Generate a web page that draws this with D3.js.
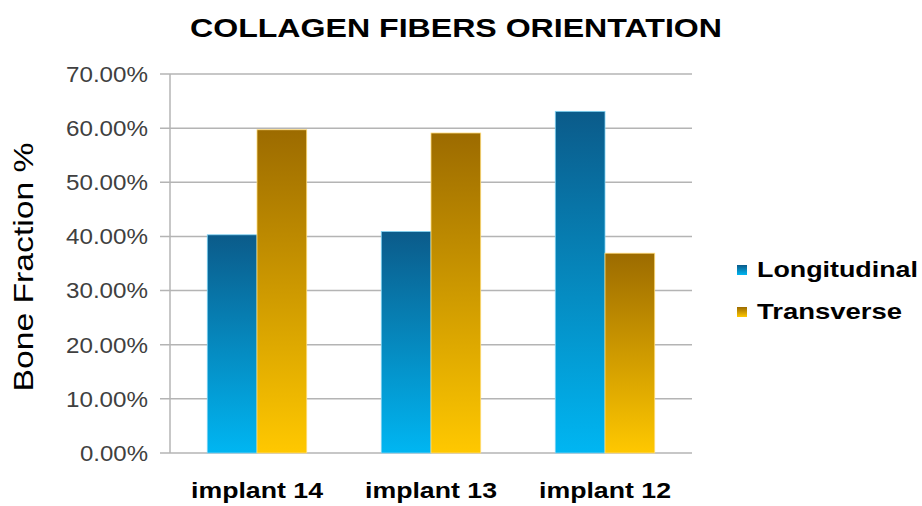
<!DOCTYPE html>
<html>
<head>
<meta charset="utf-8">
<script src="https://cdn.jsdelivr.net/npm/d3@7"></script>
<style>
  body { margin: 0; background: #fff; }
  text { font-family: "Liberation Sans", Arial, sans-serif; }
</style>
</head>
<body>
<script>
const width = 922,
      height = 506;

// data
const implants = ["implant 14", "implant 13", "implant 12"];
const seriesNames = ["Longitudinal", "Transverse"];
const longitudinal = [0.403, 0.409, 0.631];
const transverse = [0.597, 0.591, 0.369];
const yTicks = [0, 0.1, 0.2, 0.3, 0.4, 0.5, 0.6, 0.7];

const margin = {top: 74, right: 230, bottom: 53, left: 170};

const svg = d3.select("body")
              .append("svg")
              .attr("width", width)
              .attr("height", height);

const defs = svg.append("defs");
function gradient(id, top, bottom) {
    const g = defs.append("linearGradient")
                  .attr("id", id)
                  .attr("x1", 0).attr("y1", 0)
                  .attr("x2", 0).attr("y2", 1);
    g.append("stop").attr("offset", "0%").attr("stop-color", top);
    g.append("stop").attr("offset", "100%").attr("stop-color", bottom);
}
gradient("gBlue", "#0b5b8a", "#00b6f2");
gradient("gGold", "#9c6b00", "#ffc800");
const fills = ["url(#gBlue)", "url(#gGold)"];
const edges = ["#7fd3f3", "#ffdc7a"];

const x = d3.scaleBand()
            .domain(implants)
            .range([margin.left, width - margin.right]);

const xs = d3.scaleBand()
             .domain(seriesNames)
             .range([0, x.bandwidth()])
             .paddingOuter(0.75)
             .paddingInner(0);

const y = d3.scaleLinear()
            .domain([0, 0.7])
            .range([height - margin.bottom, margin.top]);

// gridlines
svg.append("g")
   .selectAll("line")
   .data(yTicks)
   .join("line")
   .attr("x1", margin.left - 10)
   .attr("x2", width - margin.right)
   .attr("y1", d => y(d))
   .attr("y2", d => y(d))
   .attr("stroke", "#b4b4b4")
   .attr("stroke-width", 1.5);

// y axis line
svg.append("line")
   .attr("x1", margin.left).attr("x2", margin.left)
   .attr("y1", y(0.7)).attr("y2", y(0))
   .attr("stroke", "#b4b4b4")
   .attr("stroke-width", 1.5);

// tick labels (the source image is stretched sideways, hence textLength)
svg.append("g")
   .selectAll("text")
   .data(yTicks)
   .join("text")
   .attr("x", margin.left - 22)
   .attr("y", d => y(d))
   .attr("dy", "0.36em")
   .attr("text-anchor", "end")
   .attr("fill", "#404040")
   .attr("textLength", d => d < 0.1 ? 68 : 82)
   .attr("lengthAdjust", "spacingAndGlyphs")
   .style("font-size", "22px")
   .text(d3.format(".2%"));

// bars
const rows = implants.map((k, i) => ({key: k, values: [longitudinal[i], transverse[i]]}));

svg.append("g")
   .selectAll("g")
   .data(rows)
   .join("g")
   .attr("transform", d => `translate(${x(d.key)},0)`)
   .selectAll("rect")
   .data(d => d.values.map((v, j) => ({name: seriesNames[j], v, j})))
   .join("rect")
   .attr("x", d => xs(d.name))
   .attr("width", xs.bandwidth())
   .attr("y", d => y(d.v))
   .attr("height", d => y(0) - y(d.v))
   .attr("fill", d => fills[d.j])
   .attr("stroke", d => edges[d.j])
   .attr("stroke-width", 0.8);

// x labels
svg.append("g")
   .selectAll("text")
   .data(implants)
   .join("text")
   .attr("x", d => x(d) + x.bandwidth() / 2)
   .attr("y", 498)
   .attr("text-anchor", "middle")
   .attr("textLength", 132)
   .attr("lengthAdjust", "spacingAndGlyphs")
   .style("font-size", "22px")
   .style("font-weight", "bold")
   .text(d => d);

// title
svg.append("text")
   .attr("x", 456)
   .attr("y", 37)
   .attr("text-anchor", "middle")
   .attr("textLength", 532)
   .attr("lengthAdjust", "spacingAndGlyphs")
   .style("font-size", "26px")
   .style("font-weight", "bold")
   .text("COLLAGEN FIBERS ORIENTATION");

// y axis title
svg.append("text")
   .attr("transform", "translate(33,267) rotate(-90)")
   .attr("text-anchor", "middle")
   .attr("textLength", 249)
   .attr("lengthAdjust", "spacingAndGlyphs")
   .style("font-size", "28px")
   .text("Bone Fraction %");

// legend
const legendWidths = [161, 145];
const legend = svg.append("g")
                  .selectAll("g")
                  .data(seriesNames)
                  .join("g")
                  .attr("transform", (d, i) => `translate(737,${270 + i * 42})`);

legend.append("rect")
      .attr("x", 0).attr("y", -5)
      .attr("width", 10).attr("height", 10)
      .attr("fill", (d, i) => fills[i]);

legend.append("text")
      .attr("x", 20)
      .attr("y", 7)
      .attr("textLength", (d, i) => legendWidths[i])
      .attr("lengthAdjust", "spacingAndGlyphs")
      .style("font-size", "22px")
      .style("font-weight", "bold")
      .text(d => d);
</script>
</body>
</html>
